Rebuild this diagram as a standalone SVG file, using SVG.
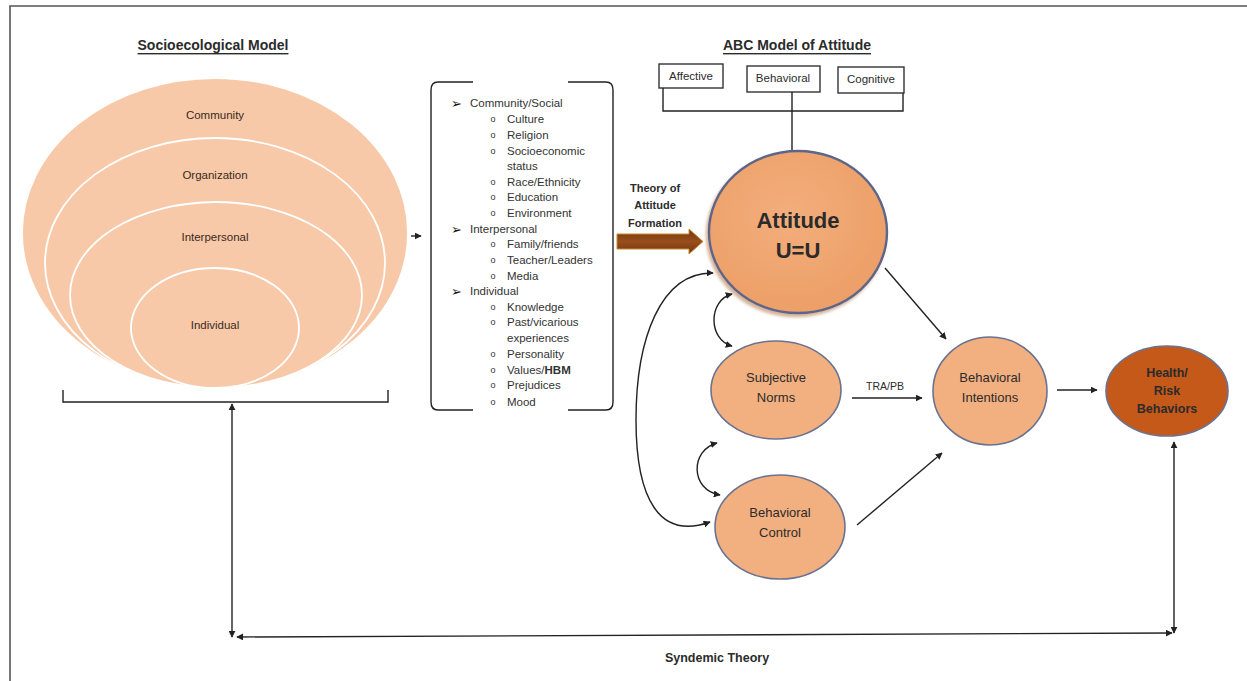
<svg xmlns="http://www.w3.org/2000/svg" width="1247" height="681" viewBox="0 0 1247 681">
<style>
  text { font-family: "Liberation Sans", Arial, sans-serif; fill: #2b2b2b; dominant-baseline: central; }
  .title { font-size: 14px; font-weight: bold; text-anchor: middle; text-decoration: underline; }
  .sem { fill: #F7C9A8; stroke: #ffffff; stroke-width: 1.8; }
  .semlbl { font-size: 11.5px; text-anchor: middle; fill: #3a2a20; }
  .li { font-size: 11.5px; fill: #333; }
  .bul { font-family: "DejaVu Sans", sans-serif; font-size: 13px; fill: #111; }
  .sub { font-family: "Liberation Sans", sans-serif; font-size: 9px; fill: #333; text-anchor: middle; }
  .box { fill: #fff; stroke: #333; stroke-width: 1.4; }
  .boxlbl { font-size: 11.5px; text-anchor: middle; }
  .node { fill: #F2AF80; stroke: #6B7290; stroke-width: 1.6; }
  .nodelbl { font-size: 13px; text-anchor: middle; }
  .line { fill: none; stroke: #222; stroke-width: 1.4; }
  .arr { fill: none; stroke: #222; stroke-width: 1.4; marker-end: url(#ah); }
  .darr { fill: none; stroke: #222; stroke-width: 1.4; marker-start: url(#ah); marker-end: url(#ah); }
</style>
<defs>
  <marker id="ah" viewBox="0 0 10 10" refX="9" refY="5" markerWidth="7" markerHeight="7" markerUnits="userSpaceOnUse" orient="auto-start-reverse">
    <path d="M0,0 L10,5 L0,10 Z" fill="#222"/>
  </marker>
  <linearGradient id="brown" x1="0" y1="0" x2="0" y2="1">
    <stop offset="0" stop-color="#6E3510"/>
    <stop offset="0.5" stop-color="#9A4E1C"/>
    <stop offset="1" stop-color="#6E3510"/>
  </linearGradient>
  <radialGradient id="att" cx="0.45" cy="0.4" r="0.65">
    <stop offset="0" stop-color="#F3AE7C"/>
    <stop offset="1" stop-color="#EC9E66"/>
  </radialGradient>
  <filter id="sh" x="-20%" y="-20%" width="140%" height="140%">
    <feDropShadow dx="-2" dy="3" stdDeviation="1.5" flood-color="#A0561A" flood-opacity="0.45"/>
  </filter>
</defs>
<rect x="0" y="0" width="1247" height="681" fill="#fff"/>
<path d="M10,690 L10,6 L1250,6" fill="none" stroke="#555" stroke-width="1.6"/>

<text class="title" x="213" y="45">Socioecological Model</text>
<text class="title" x="797" y="45">ABC Model of Attitude</text>

<g id="sem">
  <ellipse class="sem" cx="215" cy="233" rx="193" ry="155"/>
  <ellipse class="sem" cx="215" cy="263" rx="170" ry="125"/>
  <ellipse class="sem" cx="216" cy="295" rx="146" ry="93"/>
  <ellipse class="sem" cx="215" cy="328" rx="84" ry="60"/>
  <text class="semlbl" x="215" y="115">Community</text>
  <text class="semlbl" x="215" y="175">Organization</text>
  <text class="semlbl" x="215" y="237">Interpersonal</text>
  <text class="semlbl" x="215" y="325">Individual</text>
  <path class="line" d="M63,390 L63,402 L388,402 L388,390"/>
</g>

<g id="factors">
  <path class="line" d="M473,82 L438,82 Q431,82 431,90 L431,402 Q431,410 438,410 L473,410"/>
  <path class="line" d="M568,82 L606,82 Q613,82 613,90 L613,402 Q613,410 606,410 L568,410"/>
  <text class="bul" x="451" y="103">➢</text><text class="li" x="470" y="103">Community/Social</text>
  <text class="sub" x="493" y="119">o</text><text class="li" x="507" y="119">Culture</text>
  <text class="sub" x="493" y="135">o</text><text class="li" x="507" y="135">Religion</text>
  <text class="sub" x="493" y="151">o</text><text class="li" x="507" y="151">Socioeconomic</text>
  <text class="li" x="507" y="166">status</text>
  <text class="sub" x="493" y="182">o</text><text class="li" x="507" y="182">Race/Ethnicity</text>
  <text class="sub" x="493" y="197">o</text><text class="li" x="507" y="197">Education</text>
  <text class="sub" x="493" y="213">o</text><text class="li" x="507" y="213">Environment</text>
  <text class="bul" x="451" y="229">➢</text><text class="li" x="470" y="229">Interpersonal</text>
  <text class="sub" x="493" y="244">o</text><text class="li" x="507" y="244">Family/friends</text>
  <text class="sub" x="493" y="260">o</text><text class="li" x="507" y="260">Teacher/Leaders</text>
  <text class="sub" x="493" y="276">o</text><text class="li" x="507" y="276">Media</text>
  <text class="bul" x="451" y="291">➢</text><text class="li" x="470" y="291">Individual</text>
  <text class="sub" x="493" y="307">o</text><text class="li" x="507" y="307">Knowledge</text>
  <text class="sub" x="493" y="322">o</text><text class="li" x="507" y="322">Past/vicarious</text>
  <text class="li" x="507" y="338">experiences</text>
  <text class="sub" x="493" y="354">o</text><text class="li" x="507" y="354">Personality</text>
  <text class="sub" x="493" y="370">o</text><text class="li" x="507" y="370">Values/<tspan font-weight="bold">HBM</tspan></text>
  <text class="sub" x="493" y="385">o</text><text class="li" x="507" y="385">Prejudices</text>
  <text class="sub" x="493" y="402">o</text><text class="li" x="507" y="402">Mood</text>
</g>

<g id="abc">
  <rect class="box" x="659" y="64" width="64" height="24"/>
  <text class="boxlbl" x="691" y="76">Affective</text>
  <rect class="box" x="747" y="66" width="73" height="26"/>
  <text class="boxlbl" x="783" y="78">Behavioral</text>
  <rect class="box" x="838" y="67" width="66" height="26"/>
  <text class="boxlbl" x="871" y="79">Cognitive</text>
  <path class="line" d="M663,88 L663,111 L903,111 L903,93 M792,92 L792,152"/>
</g>

<g id="formation">
  <text x="655" y="188" font-size="11" font-weight="bold" text-anchor="middle">Theory of</text>
  <text x="655" y="205" font-size="11" font-weight="bold" text-anchor="middle">Attitude</text>
  <text x="655" y="223" font-size="11" font-weight="bold" text-anchor="middle">Formation</text>
  <path d="M617,234 L689,234 L689,229 L703,241.5 L689,254 L689,249 L617,249 Z" fill="url(#brown)" stroke="#C8892E" stroke-width="1"/>
</g>

<g id="attitude">
  <ellipse cx="798" cy="232" rx="89" ry="81" fill="url(#att)" stroke="#5D6688" stroke-width="2.4" filter="url(#sh)"/>
  <text x="798" y="220" font-size="22" font-weight="bold" text-anchor="middle" fill="#1e1e1e">Attitude</text>
  <text x="798" y="250" font-size="22" font-weight="bold" text-anchor="middle" fill="#1e1e1e">U=U</text>
</g>

<g id="subjective-norms">
  <ellipse class="node" cx="776" cy="390" rx="65" ry="49"/>
  <text class="nodelbl" x="776" y="377">Subjective</text>
  <text class="nodelbl" x="776" y="397">Norms</text>
</g>

<g id="behavioral-control">
  <ellipse class="node" cx="780" cy="527" rx="65" ry="52"/>
  <text class="nodelbl" x="780" y="512">Behavioral</text>
  <text class="nodelbl" x="780" y="532">Control</text>
</g>

<g id="behavioral-intentions">
  <ellipse class="node" cx="990" cy="391" rx="57" ry="54"/>
  <text class="nodelbl" x="990" y="377">Behavioral</text>
  <text class="nodelbl" x="990" y="397">Intentions</text>
</g>

<g id="health">
  <ellipse cx="1167" cy="391" rx="61" ry="45" fill="#C4591A" stroke="#6B7290" stroke-width="1.6"/>
  <text x="1167" y="373" font-size="12.5" font-weight="bold" text-anchor="middle" fill="#1a1a1a">Health/</text>
  <text x="1167" y="391" font-size="12.5" font-weight="bold" text-anchor="middle" fill="#1a1a1a">Risk</text>
  <text x="1167" y="409" font-size="12.5" font-weight="bold" text-anchor="middle" fill="#1a1a1a">Behaviors</text>
</g>

<text x="885" y="386" font-size="10.5" text-anchor="middle">TRA/PB</text>
<text x="717" y="658" font-size="12.5" font-weight="bold" text-anchor="middle">Syndemic Theory</text>

<g id="connectors">
  <path class="arr" d="M411,236 L421,236"/>
  <path class="arr" d="M885,268 L946,339"/>
  <path class="arr" d="M852,398 L922,398"/>
  <path class="arr" d="M857,525 L942,453"/>
  <path class="arr" d="M1057,390 L1097,390"/>
  <path class="darr" d="M732,294 C708,300 708,340 732,346"/>
  <path class="darr" d="M717,443 C690,450 690,490 720,495"/>
  <path class="darr" d="M713,273 C660,272 636,340 636,420 C636,500 660,540 710,522"/>
  <path class="darr" d="M232,404 L232,637"/>
  <path class="darr" d="M237,637 L1172,633"/>
  <path class="darr" d="M1174,442 L1174,633"/>
</g>
</svg>
